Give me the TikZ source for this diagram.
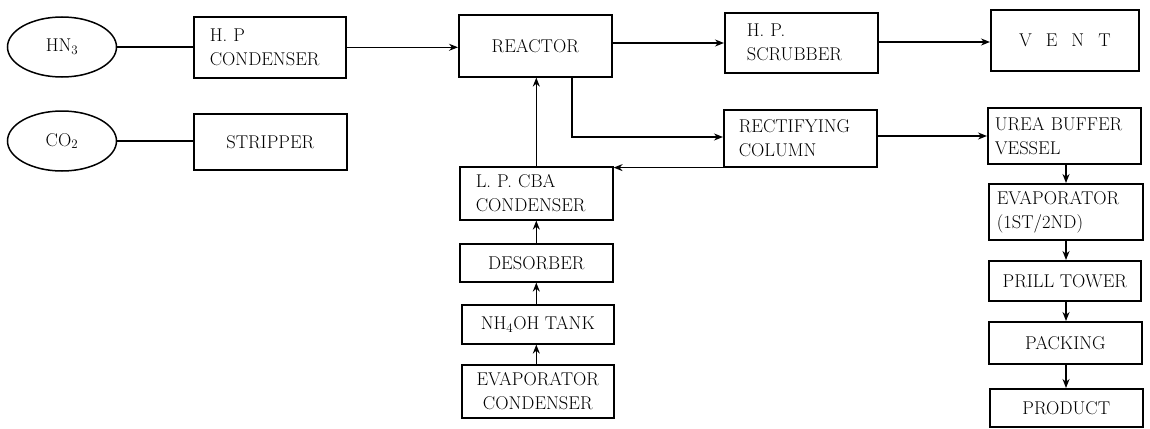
\documentclass[tikz,border=0pt]{standalone}
\usetikzlibrary{arrows.meta,shapes.geometric}
\begin{document}
\begin{tikzpicture}[x=1pt,y=-1pt,
  every node/.style={font=\fontsize{18.5}{24}\selectfont},
  box/.style={draw, line width=1.6pt, rectangle, inner ysep=0pt, anchor=north west},
  lbox/.style={box, align=left},
  cbox/.style={box, align=center, inner xsep=2pt},
  src/.style={draw, line width=1.5pt, ellipse, inner sep=0pt, minimum width=109pt, minimum height=60pt},
  flow/.style={line width=1.4pt, -{Stealth[length=9pt,width=7pt]}},
  plain/.style={line width=1.4pt}
]
\useasboundingbox (0,0) rectangle (1150,428);

% sources
\node[src] (hn3) at (62,47) {HN\textsubscript{3}};
\node[src] (co2) at (62,141) {CO\textsubscript{2}};

% top row
\node[lbox, minimum width=152pt, minimum height=61pt, inner xsep=16pt, text width=120pt] (hpc) at (193,16) {H.\ P\\CONDENSER};
\node[cbox, minimum width=153pt, minimum height=62pt] (reactor) at (458,14) {REACTOR};
\node[lbox, minimum width=153pt, minimum height=60pt, inner xsep=22pt, text width=109pt] (scrub) at (724,12) {H.\ P.\\SCRUBBER};
\node[cbox, minimum width=148pt, minimum height=61pt] (vent) at (990,9) {V\hspace{14pt}E\hspace{14pt}N\hspace{14pt}T};

% second row
\node[cbox, minimum width=153pt, minimum height=56pt] (strip) at (193,113) {STRIPPER};
\node[lbox, minimum width=153pt, minimum height=57pt, inner xsep=15pt, text width=123pt] (rect) at (723,109) {RECTIFYING\\COLUMN};
\node[lbox, minimum width=153pt, minimum height=56pt, inner xsep=7pt, text width=139pt] (urea) at (987,107) {UREA BUFFER\\VESSEL};

% left column
\node[lbox, minimum width=153pt, minimum height=53pt, inner xsep=16pt, text width=121pt] (lpcba) at (459,166) {L.\ P.\ CBA\\CONDENSER};
\node[cbox, minimum width=153pt, minimum height=38pt] (desorb) at (459,243) {DESORBER};
\node[cbox, minimum width=152pt, minimum height=39pt] (nh4) at (461,304) {NH\textsubscript{4}OH TANK};
\node[cbox, minimum width=152pt, minimum height=53pt] (evcond) at (461,364) {EVAPORATOR\\CONDENSER};

% right column
\node[lbox, minimum width=154pt, minimum height=56pt, inner xsep=8pt, text width=138pt] (evap) at (988,183) {EVAPORATOR\\(1ST/2ND)};
\node[cbox, minimum width=152pt, minimum height=40pt] (prill) at (988,260) {PRILL TOWER};
\node[cbox, minimum width=153pt, minimum height=42pt] (pack) at (988,321) {PACKING};
\node[cbox, minimum width=153pt, minimum height=38pt] (prod) at (989,388) {PRODUCT};

\coordinate (rturn) at (572,137);

% connectors
\draw[plain] (hn3.east) -- (hpc.west |- hn3.east);
\draw[plain] (co2.east) -- (co2.east -| strip.west);
\draw[flow] (hpc.east) -- (hpc.east -| reactor.west);
\draw[flow] (reactor.east |- 0,43) -- (scrub.west |- 0,43);
\draw[flow] (scrub.east |- 0,42) -- (vent.west |- 0,42);
\draw[flow] (reactor.south -| rturn) -- (rturn) -- (rturn -| rect.west);
\draw[flow] (rect.south west) -- (rect.south west -| lpcba.east);
\draw[flow] (lpcba.north) -- (lpcba.north |- reactor.south);
\draw[flow] (desorb.north) -- (lpcba.south);
\draw[flow] (nh4.north -| desorb.north) -- (desorb.south);
\draw[flow] (evcond.north -| desorb.north) -- (nh4.south -| desorb.north);
\draw[flow] (rect.east |- 0,136) -- (urea.west |- 0,136);
\draw[flow] (urea.south -| 1066,0) -- (evap.north -| 1066,0);
\draw[flow] (evap.south -| 1066,0) -- (prill.north -| 1066,0);
\draw[flow] (prill.south -| 1066,0) -- (pack.north -| 1066,0);
\draw[flow] (pack.south -| 1066,0) -- (prod.north -| 1066,0);
\end{tikzpicture}
\end{document}
